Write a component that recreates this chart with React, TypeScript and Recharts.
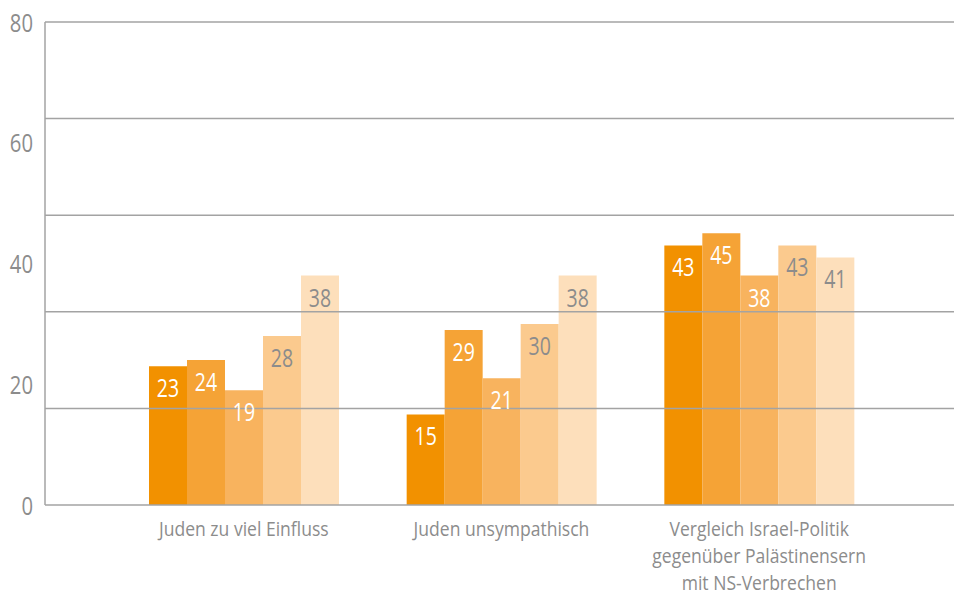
import { Bar, BarChart, LabelList, ReferenceLine, XAxis, YAxis } from "recharts";

const categories = [
  "Juden zu viel Einfluss",
  "Juden unsympathisch",
  "Vergleich Israel-Politik\ngegenüber Palästinensern\nmit NS-Verbrechen",
];
const seriesA = [23, 15, 43];
const seriesB = [24, 29, 45];
const seriesC = [19, 21, 38];
const seriesD = [28, 30, 43];
const seriesE = [38, 38, 41];
const yTicks = [0, 20, 40, 60, 80];
const gridValues = [16, 32, 48, 64, 80];

const seriesKeys = ["a", "b", "c", "d", "e"];
const seriesColors = ["#f29100", "#f5a336", "#f8b35e", "#fbca8e", "#fddfbb"];
const labelColors = ["#ffffff", "#ffffff", "#ffffff", "#8c8c8c", "#8c8c8c"];

const data = categories.map((name, i) => ({
  name,
  a: seriesA[i],
  b: seriesB[i],
  c: seriesC[i],
  d: seriesD[i],
  e: seriesE[i],
}));

const FONT = "'Open Sans', sans-serif";
const AXIS_GRAY = "#a3a3a3";
const TEXT_GRAY = "#8c8c8c";

// condensed look: squeeze the text horizontally around its anchor
function Squeezed({ x, y, size, fill, sx, children, anchor = "middle" }: any) {
  return (
    <g transform={`translate(${x},${y}) scale(${sx},1)`}>
      <text x={0} y={0} textAnchor={anchor} fill={fill} fontSize={size} fontFamily={FONT}>
        {children}
      </text>
    </g>
  );
}

function CategoryTick(props: { x?: number; y?: number; payload?: { value: string } }) {
  const { x = 0, payload } = props;
  const lines = (payload?.value ?? "").split("\n");
  return (
    <g>
      {lines.map((l, i) => (
        <Squeezed key={i} x={x} y={536 + i * 27} size={19.5} fill={TEXT_GRAY} sx={0.9}>
          {l}
        </Squeezed>
      ))}
    </g>
  );
}

function ValueTick(props: { x?: number; y?: number; payload?: { value: number } }) {
  const { x = 0, y = 0, payload } = props;
  return (
    <Squeezed x={x} y={y + 9.5} size={26} fill={TEXT_GRAY} sx={0.78} anchor="end">
      {payload?.value}
    </Squeezed>
  );
}

function makeBarLabel(color: string) {
  return (props: any) => {
    const { x, y, width, value } = props;
    return (
      <Squeezed x={Number(x) + Number(width) / 2} y={Number(y) + 31} size={25} fill={color} sx={0.78}>
        {value}
      </Squeezed>
    );
  };
}

export default function App() {
  return (
    <div style={{ position: "absolute", left: 0, top: 0, width: 954, height: 594, background: "#fff" }}>
      <BarChart
        width={954}
        height={594}
        data={data}
        margin={{ top: 22, right: 0, bottom: 0, left: 0 }}
        barGap={0}
        barSize={38}
      >
        <XAxis
          dataKey="name"
          interval={0}
          padding={{ left: 70, right: 66 }}
          tickLine={false}
          axisLine={{ stroke: AXIS_GRAY, strokeWidth: 1.5 }}
          tick={<CategoryTick />}
          height={89}
        />
        <YAxis
          type="number"
          domain={[0, 80]}
          ticks={yTicks}
          width={45}
          tickLine={false}
          axisLine={{ stroke: AXIS_GRAY, strokeWidth: 1.5 }}
          tick={<ValueTick />}
          tickMargin={6}
        />
        {gridValues.map((v) => (
          <ReferenceLine key={v} y={v} stroke={AXIS_GRAY} strokeWidth={1.5} />
        ))}
        {seriesKeys.map((k, i) => (
          <Bar key={k} dataKey={k} fill={seriesColors[i]} isAnimationActive={false}>
            <LabelList dataKey={k} content={makeBarLabel(labelColors[i])} />
          </Bar>
        ))}
      </BarChart>
    </div>
  );
}
